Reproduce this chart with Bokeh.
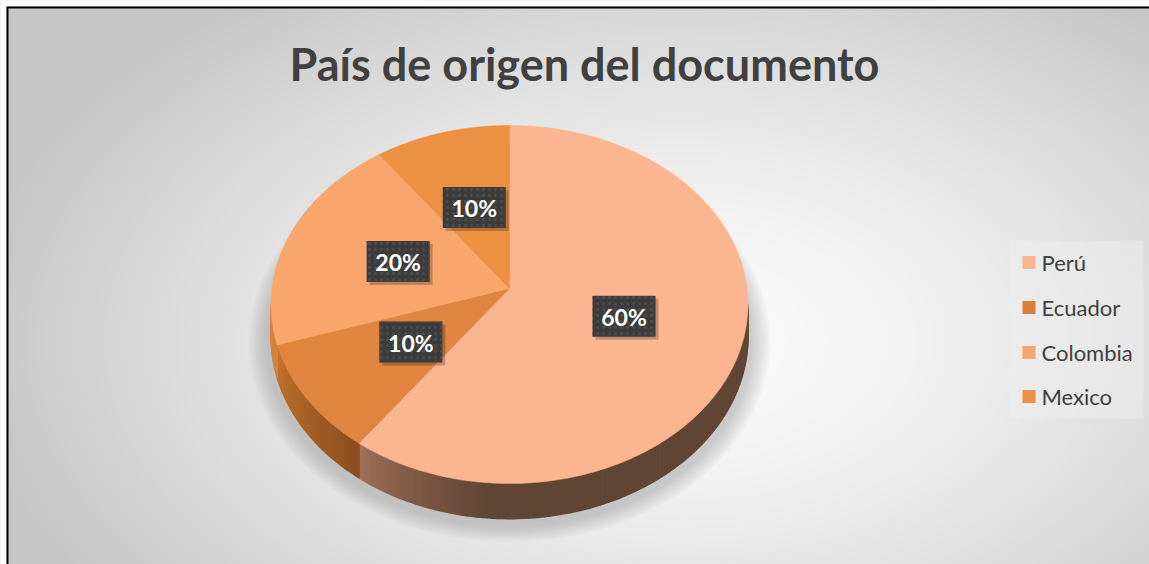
import numpy as np
from bokeh.plotting import figure
from bokeh.models import Range1d
from bokeh.core.properties import value
from bokeh.embed import file_html
from bokeh.resources import INLINE

# ---------------- data ----------------
title_text = "País de origen del documento"
countries = ["Perú", "Ecuador", "Colombia", "Mexico"]
counts = [60, 10, 20, 10]
top_colors = ["#FBB591", "#E0853F", "#F8A66B", "#EC9142"]
legend_colors = ["#FAB592", "#DA7F3A", "#F9A66E", "#EE8F41"]
# side-wall colours (light end, dark end) per slice
side_colors = [("#A27259", "#614535"), ("#8C4F1F", "#C2722F"),
               ("#D3843F", "#D3843F"), ("#D3843F", "#D3843F")]

W, H = 1149, 564

p = figure(width=W, height=H, output_backend="svg", toolbar_location=None,
           x_range=Range1d(0, W), y_range=Range1d(H, 0),
           min_border=0)
p.axis.visible = False
p.grid.visible = False
p.outline_line_color = None
p.background_fill_color = "#d0d0d0"
p.border_fill_color = "white"


def bg_grey(sx, sy):
    d = np.sqrt(((sx - 680) / 720.0) ** 2 + ((sy - 340) / 430.0) ** 2)
    t = np.clip(d, 0, 1) ** 1.5
    return 251 - (251 - 198) * t


# ---------------- background radial gradient ----------------
PAD = 10
GW, GH = W + 2 * PAD, H + 2 * PAD
yy, xx = np.mgrid[0:GH, 0:GW]
sx = xx - PAD
sy = yy - PAD
g = bg_grey(sx, sy).astype(np.uint32)
img = (np.uint32(255) << np.uint32(24)) | (g << np.uint32(16)) | (g << np.uint32(8)) | g
img = img.astype(np.uint32)
img[(sy < 6)] = 0xFFFFFFFF
img[(sx < 6)] = 0xFFFFFFFF
p.image_rgba(image=[img], x=-PAD, y=-PAD, dw=GW, dh=GH)

# cover strip at the right edge (opaque, matching the gradient)
ey = np.arange(8, H + 8, 8, dtype=float)
eg = bg_grey(W - 3, ey + 4)
ecols = ["#%02x%02x%02x" % (int(v), int(v), int(v)) for v in eg]
p.quad(left=W - 5, right=W + 5, top=ey, bottom=ey + 8, fill_color=ecols,
       line_color=ecols, line_width=1)

# frame border (left/top)
p.segment(x0=[7, 6], y0=[7, 7], x1=[7, W + 5], y1=[H + 5, 7],
          line_color="black", line_width=2)

# ---------------- pie geometry (perspective ellipse) ----------------
cx, cy = 509.0, 288.0
a, b, k = 237.5, 177.6, 0.0893
depth = 32.0


def proj(theta, f=1.0):
    u = f * np.sin(theta)
    v = f * np.cos(theta)
    w = 1 + k * v
    return cx + a * u / w, cy - b * v / w, w


total = float(sum(counts))
fracs = [c / total for c in counts]
starts = np.concatenate([[0.0], np.cumsum(fracs)[:-1]]) * 2 * np.pi
ends = np.cumsum(fracs) * 2 * np.pi

# soft shadow under the pie
for i in range(10):
    s = 1.0 + 0.008 * i
    th = np.linspace(0, 2 * np.pi, 200)
    x, y, w = proj(th, 1.0)
    p.patch((x - cx) * s * 1.02 + cx, (y - cy) * s * 1.04 + cy + 36,
            fill_color="#7a7a7a", fill_alpha=0.04, line_color=None)

vis_lo = np.arccos(-k)
vis_hi = 2 * np.pi - vis_lo

# side walls
for i in range(len(counts)):
    lo = max(starts[i], vis_lo)
    hi = min(ends[i], vis_hi)
    if hi <= lo:
        continue
    n = max(2, int((hi - lo) / 0.02))
    th = np.linspace(lo, hi, n + 1)
    c1 = np.array([int(side_colors[i][0][j:j + 2], 16) for j in (1, 3, 5)], float)
    c2 = np.array([int(side_colors[i][1][j:j + 2], 16) for j in (1, 3, 5)], float)
    xa, ya, wa = proj(th)
    p.patch(np.concatenate([xa, xa[::-1]]),
            np.concatenate([ya, (ya + depth / wa)[::-1]]),
            fill_color=side_colors[i][1] if i == 0 else side_colors[i][0],
            line_color=None)
    xs, ys, cols = [], [], []
    for j in range(n):
        t0, t1 = th[j], th[j + 1]
        xa, ya, wa = proj(t0)
        xb, yb, wb = proj(t1)
        xs.append([xa, xb, xb, xa])
        ys.append([ya, yb, yb + depth / wb, ya + depth / wa])
        if i == 0:
            dist = (ends[i] - 0.5 * (t0 + t1))
            tt = min(1.0, dist / 0.55) ** 0.8
        else:
            tt = (0.5 * (t0 + t1) - lo) / (hi - lo)
        c = c1 + (c2 - c1) * tt
        cols.append("#%02x%02x%02x" % tuple(int(v) for v in c))
    p.patches(xs, ys, fill_color=cols, line_color=cols, line_width=1.5)

# top face
for i in range(len(counts)):
    th = np.linspace(starts[i], ends[i], 200)
    x, y, w = proj(th)
    xs = np.concatenate([[cx], x, [cx]])
    ys = np.concatenate([[cy], y, [cy]])
    p.patch(xs, ys, fill_color=top_colors[i], line_color=top_colors[i], line_width=0.5)

# data labels
mids = 0.5 * (starts + ends)
lx, ly, _ = proj(mids, 0.5)
pct = ["%d%%" % round(100 * f) for f in fracs]
bw, bh = 63, 41
p.rect(x=lx + 3, y=ly + 3, width=bw, height=bh, fill_color="black", fill_alpha=0.22,
       line_color=None)
p.rect(x=lx, y=ly, width=bw, height=bh, fill_color="#3c3c3c", line_color=None,
       hatch_pattern="dot", hatch_color="#4e4e4e", hatch_scale=6, hatch_weight=1.2)
p.text(x=lx, y=ly + 1, text=pct, text_font=value("Lato"), text_font_style="bold",
       text_font_size="23px", text_color="white", text_align="center",
       text_baseline="middle")

# title
p.text(x=[584], y=[63], text=[title_text], text_font=value("Lato"),
       text_font_style="bold", text_font_size="45px", text_color="#404040",
       text_align="center", text_baseline="middle")

# legend
leg_y = np.array([262, 307, 352, 396], float)
p.quad(left=[1009], right=[1143], top=[240], bottom=[418], fill_color="#ececec",
       fill_alpha=0.55, line_color=None)
p.rect(x=[1028.5] * 4, y=leg_y, width=13, height=13, fill_color=legend_colors,
       line_color=None)
p.text(x=[1041] * 4, y=leg_y, text=countries, text_font=value("Lato"),
       text_font_size="22px", text_color="#404040", text_align="left",
       text_baseline="middle")

open("out.html", "w").write(file_html(p, INLINE))
